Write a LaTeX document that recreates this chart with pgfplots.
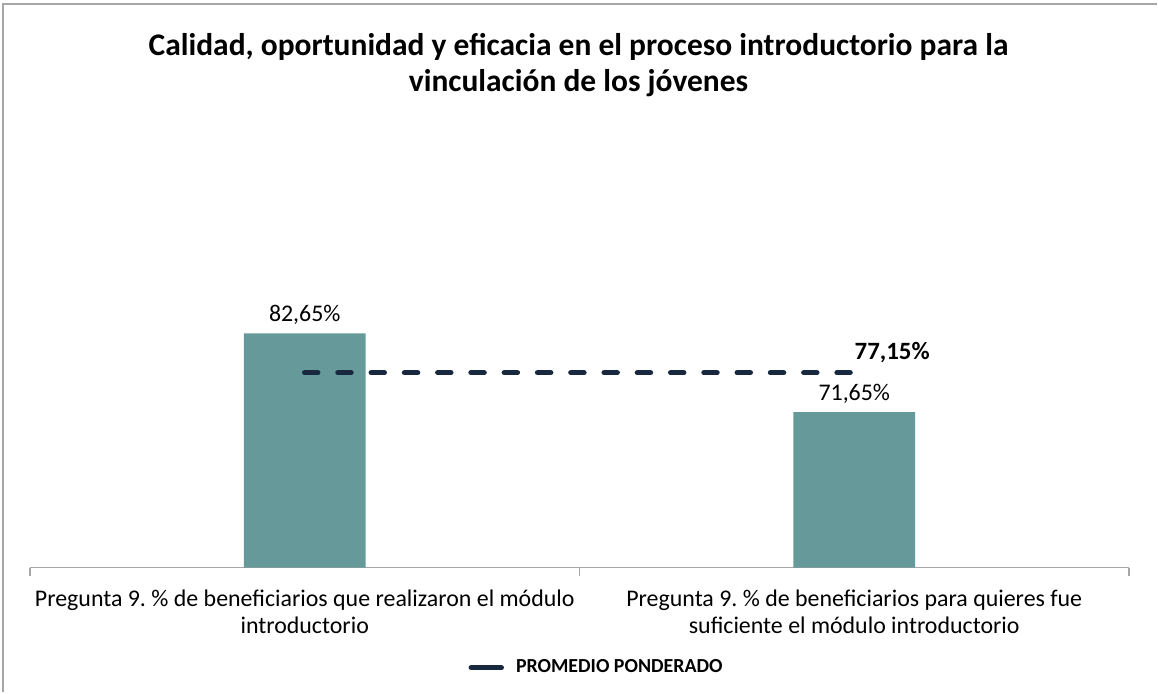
\documentclass[border=0pt]{standalone}
\usepackage{pgfplots}
\pgfplotsset{compat=1.18}
\usepackage{fontspec}
\setmainfont{Carlito}
\frenchspacing
\definecolor{barteal}{HTML}{669999}
\definecolor{avgnavy}{HTML}{17283F}
\definecolor{framegray}{HTML}{A6A6A6}

\begin{document}
\begin{tikzpicture}
% page: 1158 x 693 px at 0.5bp per px, origin at bottom left
\path (0bp,0bp) rectangle (579bp,346.5bp);
\draw[framegray, line width=1bp] (1.5bp,0bp) -- (1.5bp,344.5bp) -- (579bp,344.5bp);
\node[font=\bfseries\fontsize{15.8}{18}\selectfont, align=center] at (289.5bp,314bp)
  {Calidad, oportunidad y eficacia en el proceso introductorio para la\\vinculación de los jóvenes};
\begin{axis}[
    at={(15bp,62.5bp)}, anchor=south west,
    scale only axis,
    width=550bp, height=179.5bp,
    xmin=-0.5, xmax=1.5,
    ymin=50, ymax=100,
    axis x line*=bottom,
    axis y line=none,
    axis line style={framegray, line width=0.8bp, -},
    xtick={0,1},
    xticklabels={{Pregunta 9. \% de beneficiarios que realizaron el módulo\\introductorio},
                 {Pregunta 9. \% de beneficiarios para quieres fue\\suficiente el módulo introductorio}},
    xticklabel style={align=center, font=\fontsize{12}{14}\selectfont, yshift=-7.5bp},
    major tick length=0pt,
    extra x ticks={-0.5,0.5,1.5},
    extra x tick labels={},
    extra x tick style={major tick length=4bp, tick align=outside,
        tick style={framegray, line width=0.8bp}, xticklabel style={overlay}},
    /pgf/number format/assume math mode=true,
    legend style={at={(0.5165,-0.279)}, anchor=center, draw=none, fill=none,
                  font=\bfseries\fontsize{10}{12}\selectfont},
    legend image code/.code={\draw[avgnavy, solid, line width=2.75bp, line cap=round] (0bp,0bp) -- (15bp,0bp);},
]
\addplot[ybar, bar width=61bp, fill=barteal, draw=none, forget plot,
    nodes near coords={\pgfmathprintnumber[fixed, fixed zerofill, precision=2, use comma]{\pgfplotspointmeta}\%},
    every node near coord/.append style={font=\fontsize{12}{14}\selectfont, black, yshift=1bp}]
  coordinates {(0,82.65) (1,71.65)};
\addplot[avgnavy, line width=2.75bp, dash pattern=on 6.5bp off 10.15bp, line cap=round,
    point meta=explicit symbolic, nodes near coords,
    every node near coord/.append style={anchor=south west, font=\bfseries\fontsize{12.5}{14}\selectfont, black, xshift=-4.5bp, yshift=0bp}]
  coordinates {(0,77.15) [] (1,77.15) [77,15\%]};
\addlegendentry{\hspace{4bp}PROMEDIO PONDERADO}
\end{axis}
\end{tikzpicture}
\end{document}
